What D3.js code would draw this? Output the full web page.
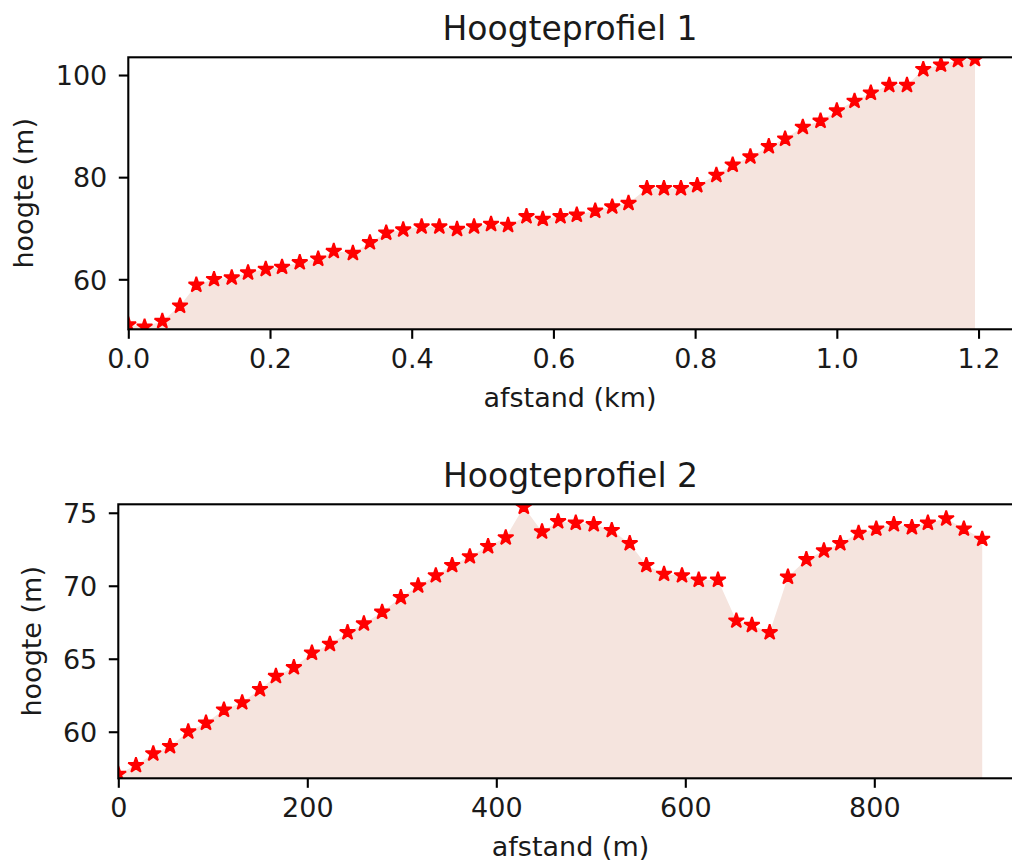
<!DOCTYPE html>
<html>
<head>
<meta charset="utf-8">
<title>Hoogteprofielen</title>
<script src="https://cdn.jsdelivr.net/npm/d3@7"></script>
<style>
    body { margin: 0; background: #fff; }
    svg { display: block; font-family: 'DejaVu Sans', sans-serif; }
</style>
</head>
<body>
<svg id="chart" width="1012" height="862"></svg>
<script>
// Profile 1: distance (km) and height (m)
const distanceKm = [0, 0.023, 0.048, 0.073, 0.096, 0.121, 0.146, 0.169, 0.194, 0.217,
    0.242, 0.268, 0.290, 0.317, 0.341, 0.364, 0.388, 0.414, 0.439, 0.464,
    0.488, 0.512, 0.536, 0.562, 0.585, 0.610, 0.633, 0.659, 0.683, 0.706,
    0.732, 0.756, 0.780, 0.803, 0.830, 0.853, 0.878, 0.904, 0.927, 0.952,
    0.977, 1.000, 1.025, 1.048, 1.074, 1.099, 1.122, 1.147, 1.171, 1.195];
const heightProfile1 = [51.1, 50.7, 51.8, 54.8, 58.9, 60.0, 60.3, 61.3, 62.0, 62.4,
    63.3, 64.0, 65.5, 65.1, 67.2, 69.1, 69.7, 70.3, 70.3, 69.8,
    70.3, 70.8, 70.6, 72.3, 71.8, 72.3, 72.6, 73.4, 74.2, 74.9,
    77.8, 77.8, 77.8, 78.4, 80.4, 82.4, 84.0, 86.0, 87.5, 89.8,
    91.0, 93.0, 94.9, 96.5, 98.0, 98.0, 101.1, 102.0, 102.9, 103.1];

// Profile 2: distance (m) and height (m)
const distanceM = [0, 18.7, 37.0, 54.7, 74.0, 92.8, 111.8, 131.1, 149.9, 166.8,
    185.8, 204.9, 223.9, 242.6, 259.9, 279.2, 299.0, 317.3, 336.0, 353.3,
    372.0, 391.3, 410.0, 429.1, 448.4, 465.4, 484.1, 503.1, 522.2, 541.2,
    558.8, 577.5, 596.5, 614.2, 634.6, 654.0, 670.5, 689.3, 708.6, 728.1,
    746.7, 764.0, 783.4, 802.1, 820.7, 839.8, 856.7, 876.1, 894.8, 914.2];
const heightProfile2 = [57.1, 57.7, 58.5, 59.0, 60.0, 60.6, 61.5, 62.0, 62.9, 63.8,
    64.4, 65.4, 66.0, 66.8, 67.4, 68.2, 69.2, 70.0, 70.7, 71.4,
    72.0, 72.7, 73.3, 75.4, 73.7, 74.4, 74.3, 74.2, 73.8, 72.9,
    71.4, 70.8, 70.7, 70.4, 70.4, 67.6, 67.3, 66.8, 70.6, 71.8,
    72.4, 72.9, 73.6, 73.9, 74.2, 74.0, 74.3, 74.6, 73.9, 73.2];

// Axis limits and ticks
const limitsX1 = [0, 1.255];
const limitsY1 = [50.21, 103.47];
const ticksX1 = [0, 0.2, 0.4, 0.6, 0.8, 1.0, 1.2];
const ticksY1 = [60, 80, 100];

const limitsX2 = [0, 960];
const limitsY2 = [56.81, 75.58];
const ticksX2 = [0, 200, 400, 600, 800];
const ticksY2 = [60, 65, 70, 75];

const FILL_COLOR = '#f5e4de';
const MARKER_COLOR = '#ff0000';
const TEXT_COLOR = '#1a1a1a';
const TICK_FONT = 27;
const TITLE_FONT = 33;

// Draw one elevation panel
function renderProfile(opts) {
    const svg = d3.select('#chart');
    const box = opts.box;
    const w = box.right - box.left;
    const h = box.bottom - box.top;

    const g = svg.append('g')
        .attr('transform', `translate(${box.left},${box.top})`);

    const x = d3.scaleLinear().domain(opts.xLimits).range([0, w]);
    const y = d3.scaleLinear().domain(opts.yLimits).range([h, 0]);

    const data = opts.xs.map((d, i) => ({x: d, y: opts.ys[i]}));

    // clip everything to the axes box, like matplotlib does
    g.append('clipPath')
        .attr('id', opts.id + '-clip')
        .append('rect')
        .attr('width', w)
        .attr('height', h);

    const plot = g.append('g').attr('clip-path', `url(#${opts.id}-clip)`);

    // Filled area under the profile
    const area = d3.area()
        .x(d => x(d.x))
        .y0(y(opts.yLimits[0]))
        .y1(d => y(d.y));

    plot.append('path')
        .datum(data)
        .attr('d', area)
        .attr('fill', FILL_COLOR);

    // Star markers
    const star = d3.symbol().type(d3.symbolStar).size(74);
    plot.selectAll('path.star')
        .data(data)
        .enter()
        .append('path')
        .attr('class', 'star')
        .attr('transform', d => `translate(${x(d.x)},${y(d.y)})`)
        .attr('d', star)
        .attr('fill', MARKER_COLOR)
        .attr('stroke', MARKER_COLOR)
        .attr('stroke-width', 1.8)
        .attr('stroke-linejoin', 'bevel');

    // X axis
    const xAxis = g.append('g')
        .attr('transform', `translate(0,${h})`)
        .call(d3.axisBottom(x)
            .tickValues(opts.xTicks)
            .tickFormat(opts.xFormat)
            .tickSizeInner(9.5)
            .tickSizeOuter(0)
            .tickPadding(10.3));
    styleAxis(xAxis);

    // Y axis
    const yAxis = g.append('g')
        .call(d3.axisLeft(y)
            .tickValues(opts.yTicks)
            .tickFormat(d3.format('d'))
            .tickSizeInner(9.5)
            .tickSizeOuter(0)
            .tickPadding(11.5));
    styleAxis(yAxis);
    yAxis.selectAll('text').attr('dy', '0.36em');

    // Spines
    g.append('rect')
        .attr('width', w)
        .attr('height', h)
        .attr('fill', 'none')
        .attr('stroke', '#000')
        .attr('stroke-width', 2.1);

    // Title
    g.append('text')
        .attr('x', opts.titleX - box.left)
        .attr('y', -17)
        .attr('text-anchor', 'middle')
        .attr('font-size', TITLE_FONT)
        .attr('fill', TEXT_COLOR)
        .text(opts.title);

    // Axis labels
    g.append('text')
        .attr('x', opts.titleX - box.left)
        .attr('y', h + 78)
        .attr('text-anchor', 'middle')
        .attr('font-size', TICK_FONT)
        .attr('fill', TEXT_COLOR)
        .text(opts.xLabel);

    g.append('text')
        .attr('transform', `translate(${opts.yLabelX - box.left},${h / 2}) rotate(-90)`)
        .attr('text-anchor', 'middle')
        .attr('font-size', TICK_FONT)
        .attr('fill', TEXT_COLOR)
        .text('hoogte (m)');
}

function styleAxis(axis) {
    axis.select('.domain').remove();
    axis.selectAll('line')
        .attr('stroke', '#000')
        .attr('stroke-width', 2.1);
    axis.selectAll('text')
        .attr('font-size', TICK_FONT)
        .attr('font-family', "'DejaVu Sans', sans-serif")
        .attr('fill', TEXT_COLOR);
}

renderProfile({
    id: 'p1',
    box: {left: 128.3, top: 57.3, right: 1017.5, bottom: 329.3},
    xs: distanceKm,
    ys: heightProfile1,
    xLimits: limitsX1,
    yLimits: limitsY1,
    xTicks: ticksX1,
    yTicks: ticksY1,
    xFormat: d3.format('.1f'),
    title: 'Hoogteprofiel 1',
    titleX: 570,
    xLabel: 'afstand (km)',
    yLabelX: 33
});

renderProfile({
    id: 'p2',
    box: {left: 118.3, top: 504.3, right: 1025.5, bottom: 778.3},
    xs: distanceM,
    ys: heightProfile2,
    xLimits: limitsX2,
    yLimits: limitsY2,
    xTicks: ticksX2,
    yTicks: ticksY2,
    xFormat: d3.format('d'),
    title: 'Hoogteprofiel 2',
    titleX: 570.5,
    xLabel: 'afstand (m)',
    yLabelX: 41
});
</script>
</body>
</html>
